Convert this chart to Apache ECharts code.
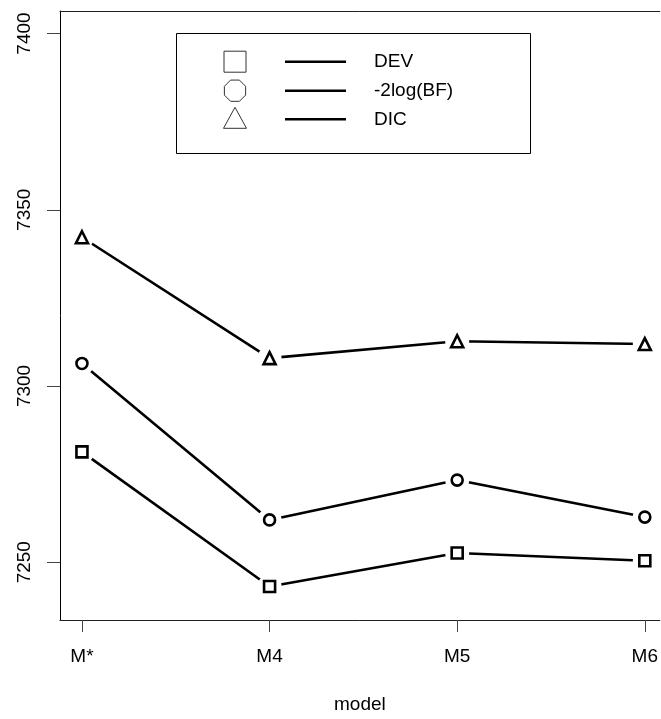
<!DOCTYPE html>
<html>
<head>
<meta charset="utf-8">
<script src="https://cdn.jsdelivr.net/npm/echarts@6/dist/echarts.min.js"></script>
<style>html,body{margin:0;padding:0;background:#fff;}#c{width:661px;height:719px;}</style>
</head>
<body>
<div id="c"></div>
<script>
var categories = ['M*', 'M4', 'M5', 'M6'];
var seriesNames = ['DEV', '-2log(BF)', 'DIC'];
var devValues = [7281.3, 7243.1, 7252.6, 7250.4];
var bfValues = [7306.4, 7262.0, 7273.3, 7262.8];
var dicValues = [7342.2, 7307.9, 7312.7, 7311.9];
var yTicks = [7250, 7300, 7350, 7400];
var xTicks = [1, 2, 3, 4];

var FONT = '"Liberation Sans", Arial, Helvetica, sans-serif';
var chart = echarts.init(document.getElementById('c'), null, {renderer: 'canvas'});

function pairs(vals) { return vals.map(function (v, i) { return [i + 1, v]; }); }
var allSeries = [devValues, bfValues, dicValues];
var symbols = ['rect', 'circle', 'triangle'];
var symSizes = [11, 11, 12];

var series = [];
allSeries.forEach(function (vals, k) {
  series.push({
    type: 'line', name: seriesNames[k] + ' line', data: pairs(vals), showSymbol: false,
    lineStyle: {color: '#000', width: 2.6}, z: 2, silent: true
  });
});
allSeries.forEach(function (vals, k) {
  series.push({
    type: 'scatter', data: pairs(vals), symbol: 'circle', symbolSize: 24,
    itemStyle: {color: '#fff', opacity: 1}, z: 3, silent: true
  });
});
allSeries.forEach(function (vals, k) {
  series.push({
    type: 'scatter', name: seriesNames[k], data: pairs(vals), symbol: symbols[k], symbolSize: symSizes[k],
    itemStyle: {color: '#fff', borderColor: '#000', borderWidth: 2.6, opacity: 1}, z: 4, silent: true
  });
});

// legend graphics
var legX = 176, legY = 33, legW = 354, legH = 120;
var rowY = [61.7, 90.7, 119.3];
var symX = 235;
var graphics = [{
  type: 'rect', shape: {x: legX + 0.5, y: legY + 0.5, width: legW, height: legH},
  style: {fill: '#fff', stroke: '#000', lineWidth: 1}, z: 10
}];
graphics.push({type: 'rect', shape: {x: symX - 11, y: rowY[0] - 10.5, width: 22, height: 21},
  style: {fill: 'none', stroke: '#333', lineWidth: 1}, z: 11});
(function () {
  var pts = [], r = 11.5;
  for (var i = 0; i < 8; i++) {
    var a = Math.PI / 8 + i * Math.PI / 4;
    pts.push([symX + r * Math.cos(a), rowY[1] + r * Math.sin(a)]);
  }
  graphics.push({type: 'polygon', shape: {points: pts}, style: {fill: 'none', stroke: '#333', lineWidth: 1}, z: 11});
})();
graphics.push({type: 'polygon', shape: {points: [[symX, rowY[2] - 12], [symX + 11.5, rowY[2] + 9], [symX - 11.5, rowY[2] + 9]]},
  style: {fill: 'none', stroke: '#333', lineWidth: 1}, z: 11});
for (var k = 0; k < 3; k++) {
  graphics.push({type: 'line', shape: {x1: 285, y1: rowY[k], x2: 346, y2: rowY[k]},
    style: {stroke: '#000', lineWidth: 2.6}, z: 11});
  graphics.push({type: 'text', x: 374, y: rowY[k],
    style: {text: seriesNames[k], font: '19px ' + FONT, fill: '#000', verticalAlign: 'middle', textAlign: 'left'}, z: 11});
}

var option = {
  animation: false,
  backgroundColor: '#fff',
  grid: {left: 60, top: 11, width: 601, height: 609, show: false, containLabel: false},
  xAxis: [{
    type: 'value', min: 0.883, max: 4.08,
    name: 'model', nameLocation: 'middle', nameGap: 75,
    nameTextStyle: {fontSize: 19, fontFamily: FONT, color: '#000'},
    axisLine: {show: true, onZero: false, lineStyle: {color: '#222', width: 1}},
    splitLine: {show: false},
    axisTick: {show: true, customValues: xTicks, length: 12, lineStyle: {color: '#444', width: 1}},
    axisLabel: {customValues: xTicks, margin: 27, fontSize: 19, fontFamily: FONT, color: '#000',
      formatter: function (v) { return categories[Math.round(v) - 1]; }}
  }, {
    type: 'value', position: 'top', min: 0.883, max: 4.08,
    axisLine: {show: true, onZero: false, lineStyle: {color: '#222', width: 1}},
    axisTick: {show: false}, axisLabel: {show: false}, splitLine: {show: false}
  }],
  yAxis: {
    type: 'value', min: 7233.6, max: 7406.4,
    axisLine: {show: true, onZero: false, lineStyle: {color: '#000', width: 1}},
    splitLine: {show: false},
    axisTick: {show: true, customValues: yTicks, length: 13, lineStyle: {color: '#444', width: 1}},
    axisLabel: {customValues: yTicks, rotate: 90, margin: 26, fontSize: 19, fontFamily: FONT, color: '#000',
      formatter: function (v) { return String(v); }}
  },
  graphic: graphics,
  series: series
};
chart.setOption(option);
</script>
</body>
</html>
